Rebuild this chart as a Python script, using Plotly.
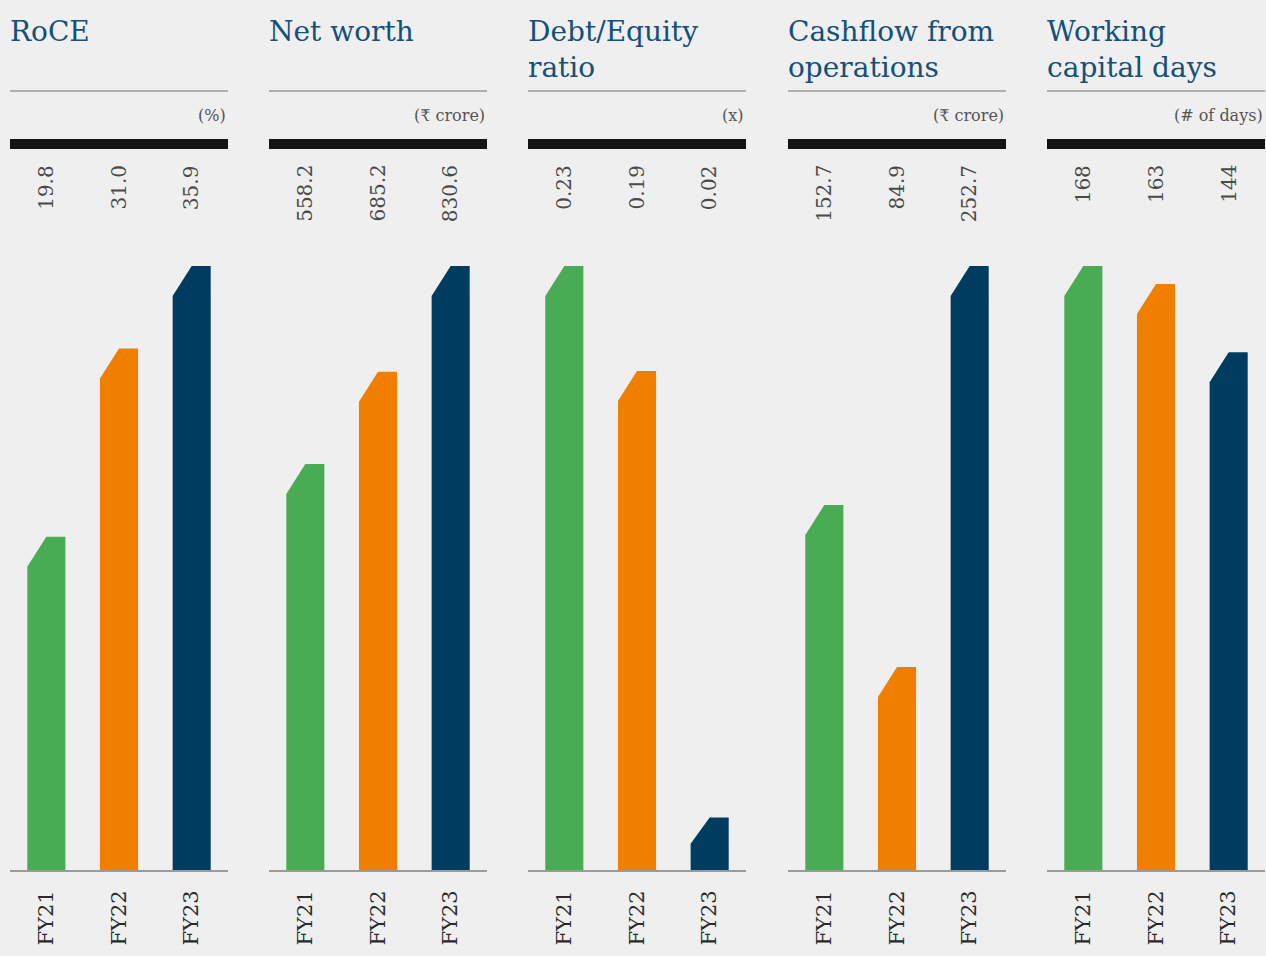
import plotly.graph_objects as go

# ---- data ----
years = ["FY21", "FY22", "FY23"]
titles = ["RoCE", "Net worth", "Debt/Equity<br>ratio", "Cashflow from<br>operations", "Working<br>capital days"]
units = ["(%)", "(₹ crore)", "(x)", "(₹ crore)", "(# of days)"]
roce = [19.8, 31.0, 35.9]
net_worth = [558.2, 685.2, 830.6]
debt_equity = [0.23, 0.19, 0.02]
cashflow = [152.7, 84.9, 252.7]
wc_days = [168, 163, 144]
series = [roce, net_worth, debt_equity, cashflow, wc_days]
decimals = [1, 1, 2, 1, 0]
colors = ["#4aab55", "#f07f00", "#003c5f"]

W, H = 1266, 956
BG = "#efefef"
TITLE_C = "#13507a"
FONT = "DejaVu Serif"

base_px = 870      # baseline y (from top)
top_px = 266       # top of tallest bar
bar_w = 0.524      # in category units
cham_px = 30

panel_left = [10, 269, 528, 788, 1047]
panel_w = 218

fig = go.Figure()
shapes = []
annotations = []

def py(px):
    return 1 - px / H

for i, vals in enumerate(series):
    ax = "" if i == 0 else str(i + 1)
    xa, ya = "x" + ax, "y" + ax
    vmax = max(vals)
    plot_h = base_px - top_px
    unit_per_px = vmax / plot_h
    for j, v in enumerate(vals):
        hpx = v / unit_per_px
        c = min(cham_px, 0.5 * hpx) * unit_per_px
        xl, xr = j - bar_w / 2, j + bar_w / 2
        fig.add_trace(go.Scatter(
            x=[xl, xl, j, xr, xr, xl],
            y=[0, v - c, v, v, 0, 0],
            fill="toself", mode="lines", line=dict(width=0),
            fillcolor=colors[j], hoverinfo="skip", showlegend=False,
            xaxis=xa, yaxis=ya))
        annotations.append(dict(
            x=j, y=py(163), xref=xa, yref="paper",
            text=f"{v:.{decimals[i]}f}", textangle=-90, showarrow=False,
            font=dict(family=FONT, size=20, color="#4a4a4a"),
            xanchor="center", yanchor="top"))
    x0 = panel_left[i] / W
    x1 = (panel_left[i] + panel_w) / W
    fig.layout["xaxis" + ax] = dict(
        domain=[x0, x1], range=[-0.5, 2.5], anchor=ya,
        tickvals=[0, 1, 2], ticktext=years, tickangle=-90,
        tickfont=dict(family=FONT, size=21, color="#2a2a2a"),
        ticks="", showgrid=False, zeroline=False, showline=True,
        linecolor="#9a9a9a", linewidth=2, fixedrange=True,
        ticklabelstandoff=10)
    fig.layout["yaxis" + ax] = dict(
        domain=[py(base_px), py(top_px)], range=[0, vmax], anchor=xa,
        visible=False, fixedrange=True)
    # thin grey rule
    shapes.append(dict(type="line", xref="paper", yref="paper",
                       x0=x0, x1=x1, y0=py(91), y1=py(91),
                       line=dict(color="#9a9a9a", width=1.5)))
    # thick black rule
    shapes.append(dict(type="rect", xref="paper", yref="paper",
                       x0=x0, x1=x1, y0=py(149), y1=py(139),
                       fillcolor="#141414", line=dict(width=0)))
    annotations.append(dict(
        x=(panel_left[i] - 2) / W, y=py(13), xref="paper", yref="paper", text=titles[i],
        showarrow=False, xanchor="left", yanchor="top", align="left",
        font=dict(family=FONT, size=28, color=TITLE_C)))
    annotations.append(dict(
        x=x1, y=py(115), xref="paper", yref="paper", text=units[i],
        showarrow=False, xanchor="right", yanchor="middle",
        font=dict(family=FONT, size=16, color="#555555")))

fig.update_layout(
    width=W, height=H, margin=dict(l=0, r=0, t=0, b=0),
    paper_bgcolor=BG, plot_bgcolor=BG,
    shapes=shapes, annotations=annotations, showlegend=False)

fig.write_html("out.html")
